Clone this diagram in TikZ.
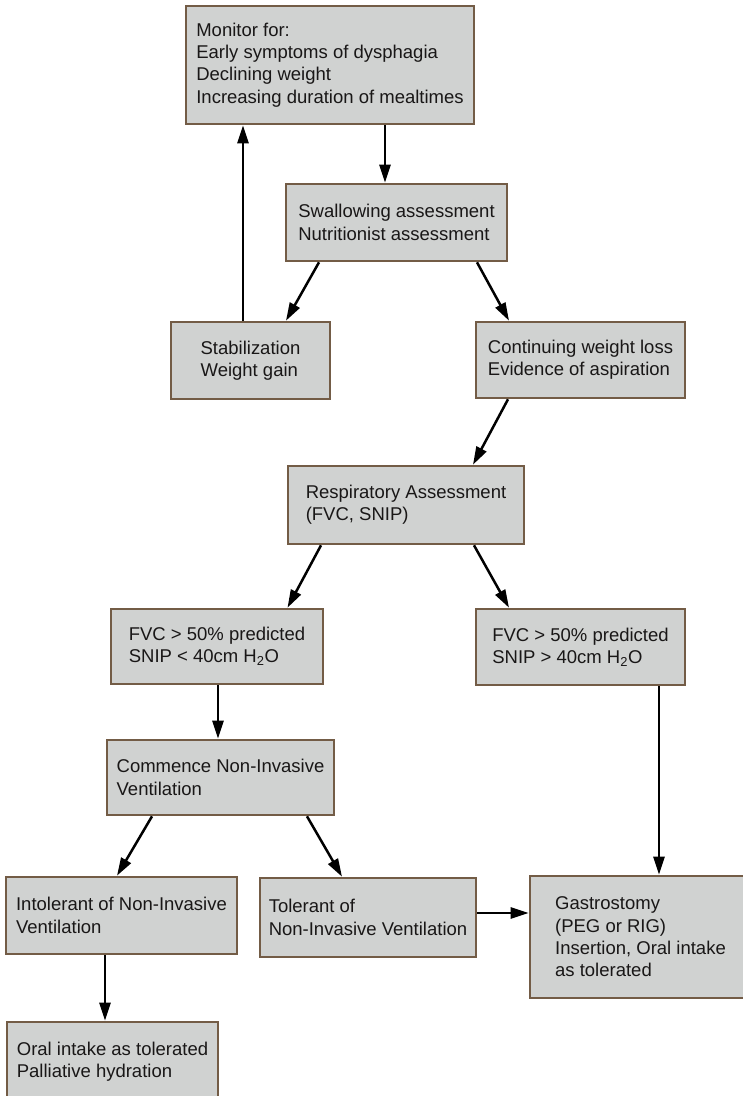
\documentclass[tikz,border=0pt]{standalone}
\usepackage{fontspec}
\setmainfont{Liberation Sans}
\usetikzlibrary{arrows.meta,calc}
\definecolor{boxfill}{RGB}{208,210,209}
\definecolor{boxline}{RGB}{115,92,70}
\definecolor{txt}{RGB}{25,23,23}
\tikzset{
  flowbox/.style={draw=boxline, fill=boxfill, line width=2.6pt, align=left,
    font=\fontsize{18.5}{22.3}\selectfont, text=txt, inner sep=0pt},
  arr/.style={-{Triangle[length=18pt,width=11pt]}, line width=2.5pt, black}
}
\begin{document}
\begin{tikzpicture}[x=1pt,y=-1pt]
\useasboundingbox (0,0) rectangle (743,1096);

\node[flowbox, minimum width=288pt, minimum height=118pt] (mon) at (330,65)
  {Monitor for:\\Early symptoms of dysphagia\\Declining weight\\Increasing duration of mealtimes};
\node[flowbox, minimum width=221pt, minimum height=77pt] (swa) at (396.5,222.5)
  {Swallowing assessment\\Nutritionist assessment};
\node[flowbox, minimum width=159pt, minimum height=77pt] (sta) at (250.5,360.5)
  {Stabilization\\Weight gain};
\node[flowbox, minimum width=209pt, minimum height=76pt] (con) at (580.5,360)
  {Continuing weight loss\\Evidence of aspiration};
\node[flowbox, minimum width=236pt, minimum height=78pt] (res) at (406,505)
  {Respiratory Assessment\\(FVC, SNIP)};
\node[flowbox, minimum width=212pt, minimum height=75pt] (fl) at (217,646.5)
  {FVC > 50\% predicted\\SNIP < 40cm H\textsubscript{2}O};
\node[flowbox, minimum width=209pt, minimum height=76pt] (fg) at (580.5,647)
  {FVC > 50\% predicted\\SNIP > 40cm H\textsubscript{2}O};
\node[flowbox, minimum width=227pt, minimum height=75pt] (com) at (220.5,777.5)
  {Commence Non-Invasive\\Ventilation};
\node[flowbox, minimum width=231pt, minimum height=77pt] (int) at (121.5,915.5)
  {Intolerant of Non-Invasive\\Ventilation};
\node[flowbox, minimum width=216pt, minimum height=79pt] (tol) at (368,917.5)
  {Tolerant of\\Non-Invasive Ventilation};
\node[flowbox, minimum width=221pt, minimum height=122pt] (gas) at (640.5,937)
  {Gastrostomy\\(PEG or RIG)\\Insertion, Oral intake\\as tolerated};
\node[flowbox, minimum width=211pt, minimum height=80pt] (ora) at (112.5,1062)
  {Oral intake as tolerated\\Palliative hydration};

\draw[arr] ([xshift=55pt]mon.south) -- ([xshift=-11.5pt]swa.north);
\draw[arr] ([xshift=-7.5pt]sta.north) -- ([xshift=-87pt]mon.south);
\draw[arr] ([xshift=-77.5pt]swa.south) -- ([xshift=35.5pt]sta.north);
\draw[arr] ([xshift=80.5pt]swa.south) -- ([xshift=-71.5pt]con.north);
\draw[arr] ([xshift=-72.5pt]con.south) -- ([xshift=67pt]res.north);
\draw[arr] ([xshift=-85pt]res.south) -- ([xshift=70.5pt]fl.north);
\draw[arr] ([xshift=68pt]res.south) -- ([xshift=-71.5pt]fg.north);
\draw[arr] ([xshift=1pt]fl.south) -- ([xshift=-2.5pt]com.north);
\draw[arr] ([xshift=-68.5pt]com.south) -- ([xshift=-4.5pt]int.north);
\draw[arr] ([xshift=86.5pt]com.south) -- ([xshift=-26pt]tol.north);
\draw[arr] ([xshift=78.5pt]fg.south) -- ([xshift=18.5pt]gas.north);
\draw[arr] ([yshift=4.5pt]tol.east) -- ([yshift=24pt]gas.west);
\draw[arr] ([xshift=-16.5pt]int.south) -- ([xshift=-7.5pt]ora.north);
\end{tikzpicture}
\end{document}
